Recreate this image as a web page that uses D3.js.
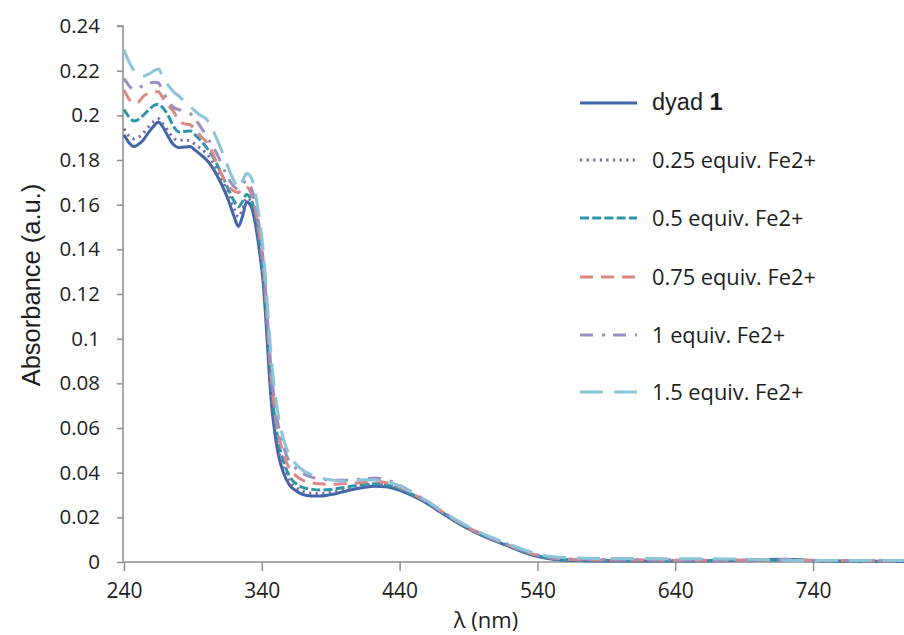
<!DOCTYPE html>
<html>
<head>
<meta charset="utf-8">
<script src="https://cdn.jsdelivr.net/npm/d3@7/dist/d3.min.js"></script>
<style>
  html, body { margin: 0; padding: 0; background: #ffffff; }
  svg { display: block; }
</style>
</head>
<body>
<script>
// Wavelength grid (nm)
const wavelengths = [
  240,244,247,250,254,258,262,265,268,272,
  276,280,284,288,292,296,300,304,308,312,
  316,320,323,326,329,332,335,337,339,341,
  343,345,347,349,352,356,360,365,370,376,
  382,390,398,406,414,422,430,438,446,454,
  462,470,480,490,500,510,520,530,540,550,
  560,575,590,610,630,650,670,690,705,720,
  735,750,770,790,806
];

// Absorbance of each titration step
const dyad1 = [
  0.1913,0.1875,0.186,0.1868,0.189,0.1925,0.1955,0.197,0.195,0.1905,
  0.1868,0.1855,0.1858,0.186,0.1842,0.1822,0.180,0.1768,0.1725,0.1675,
  0.1615,0.1545,0.1502,0.1548,0.1612,0.1595,0.1525,0.145,0.136,0.125,
  0.108,0.088,0.071,0.060,0.048,0.0395,0.0345,0.0318,0.0302,0.0296,
  0.0295,0.0302,0.0313,0.0325,0.0334,0.0339,0.0337,0.0325,0.0306,0.0282,
  0.0254,0.0222,0.0183,0.0148,0.0118,0.0092,0.0068,0.0043,0.0024,0.0013,
  0.0008,0.0006,0.0005,0.0005,0.0005,0.0005,0.0006,0.0008,0.0011,0.0012,
  0.0008,0.0004,0.0002,0.0002,0.0002
];
const fe025 = [
  0.194,0.1905,0.1895,0.19,0.192,0.195,0.1975,0.1985,0.1965,0.193,
  0.1898,0.1888,0.189,0.1885,0.1868,0.185,0.1828,0.1795,0.175,0.170,
  0.164,0.158,0.1545,0.158,0.163,0.1615,0.155,0.1475,0.1385,0.1275,
  0.1115,0.092,0.075,0.063,0.0505,0.0415,0.0362,0.0333,0.0316,0.0308,
  0.0306,0.0312,0.0323,0.0334,0.0343,0.0347,0.0344,0.0331,0.0311,0.0286,
  0.0258,0.0225,0.0186,0.015,0.012,0.0094,0.007,0.0046,0.0027,0.0015,
  0.001,0.0008,0.0007,0.0007,0.0007,0.0006,0.0006,0.0006,0.0007,0.0007,
  0.0006,0.0005,0.0004,0.0004,0.0004
];
const fe05 = [
  0.2026,0.199,0.1975,0.198,0.2,0.2025,0.2045,0.205,0.2035,0.2,
  0.195,0.1925,0.1928,0.193,0.191,0.1885,0.1855,0.182,0.1775,0.172,
  0.1665,0.1615,0.159,0.1615,0.1645,0.1625,0.1565,0.1495,0.1405,0.1295,
  0.114,0.095,0.078,0.0665,0.054,0.0445,0.0385,0.035,0.0333,0.0326,
  0.0322,0.0325,0.0332,0.034,0.0347,0.035,0.0346,0.0333,0.0312,0.0287,
  0.0258,0.0226,0.0187,0.0151,0.0121,0.0095,0.0071,0.0047,0.0028,0.0016,
  0.0011,0.0009,0.0008,0.0008,0.0007,0.0007,0.0007,0.0007,0.0008,0.0008,
  0.0007,0.0005,0.0005,0.0004,0.0004
];
const fe075 = [
  0.2114,0.207,0.2055,0.2058,0.2085,0.2099,0.2105,0.2106,0.208,0.2045,
  0.2017,0.1975,0.1962,0.1958,0.1932,0.1905,0.188,0.1835,0.1775,0.172,
  0.168,0.166,0.1655,0.1675,0.1678,0.1655,0.159,0.152,0.1435,0.1325,
  0.117,0.098,0.0815,0.070,0.0575,0.0478,0.042,0.0385,0.0365,0.0355,
  0.035,0.0348,0.035,0.0353,0.0357,0.036,0.0355,0.034,0.0317,0.029,
  0.026,0.0228,0.0189,0.0153,0.0123,0.0097,0.0073,0.0049,0.003,0.0018,
  0.0013,0.001,0.0009,0.0009,0.0008,0.0008,0.0008,0.0008,0.0009,0.0009,
  0.0008,0.0006,0.0005,0.0005,0.0005
];
const fe1 = [
  0.2166,0.213,0.2115,0.2118,0.2135,0.2144,0.2148,0.2145,0.211,0.2064,
  0.2035,0.2025,0.2018,0.2008,0.198,0.1945,0.1905,0.1865,0.182,0.1765,
  0.1715,0.168,0.167,0.1695,0.1705,0.168,0.1615,0.1545,0.146,0.135,
  0.1195,0.1005,0.0845,0.073,0.061,0.051,0.0452,0.0418,0.0395,0.038,
  0.0372,0.0367,0.0366,0.0368,0.0372,0.0376,0.0368,0.035,0.0323,0.0294,
  0.0263,0.023,0.0191,0.0155,0.0125,0.0099,0.0075,0.0051,0.0032,0.002,
  0.0015,0.0012,0.0011,0.001,0.001,0.0009,0.0009,0.0009,0.001,0.001,
  0.0008,0.0006,0.0005,0.0005,0.0005
];
const fe15 = [
  0.2293,0.2235,0.2203,0.2185,0.2175,0.2185,0.22,0.2207,0.2175,0.2135,
  0.2105,0.2085,0.2062,0.204,0.2017,0.1998,0.1982,0.194,0.1885,0.1825,
  0.176,0.1705,0.1675,0.1705,0.174,0.1725,0.1665,0.159,0.1505,0.1395,
  0.1245,0.1065,0.0905,0.0785,0.0655,0.0545,0.048,0.0437,0.041,0.039,
  0.0378,0.0368,0.0362,0.0364,0.0368,0.0367,0.036,0.0345,0.0322,0.0295,
  0.0265,0.0232,0.0193,0.0158,0.0128,0.0102,0.0078,0.0055,0.0036,0.0025,
  0.002,0.0017,0.0016,0.0016,0.0015,0.0015,0.0014,0.0013,0.0011,0.0008,
  0.0007,0.0007,0.0007,0.0007,0.0007
];

const seriesNames = ["dyad 1", "0.25 equiv. Fe2+", "0.5 equiv. Fe2+", "0.75 equiv. Fe2+", "1 equiv. Fe2+", "1.5 equiv. Fe2+"];
const seriesValues = [dyad1, fe025, fe05, fe075, fe1, fe15];

const xTicks = [240, 340, 440, 540, 640, 740];
const yTicks = [0, 0.02, 0.04, 0.06, 0.08, 0.1, 0.12, 0.14, 0.16, 0.18, 0.2, 0.22, 0.24];
const xTitle = "λ (nm)";
const yTitle = "Absorbance (a.u.)";

// Line styles per series
const styles = [
  { color: "#4065a8", dash: null,          width: 3 },
  { color: "#7c68a8", dash: "2.2,4.4",     width: 3 },
  { color: "#2f96a9", dash: "9,3.2",       width: 3 },
  { color: "#dc8883", dash: "13,8",        width: 3 },
  { color: "#9b8fc2", dash: "13,9,3,8",    width: 3 },
  { color: "#8ac5da", dash: "23,11",       width: 3 }
];

const W = 904, H = 635;
const svg = d3.select("body").append("svg").attr("width", W).attr("height", H);
svg.append("rect").attr("width", W).attr("height", H).attr("fill", "#fff");

const x = d3.scaleLinear().domain([240, 806]).range([124, 904]);
const y = d3.scaleLinear().domain([0, 0.24]).range([562, 26]);

const axisColor = "#8e8e8e";
const tickFont = "'Open Sans', sans-serif";

// Y axis
const yAxis = svg.append("g").attr("transform", "translate(123,0)")
  .call(d3.axisLeft(y).tickValues(yTicks).tickSize(6).tickPadding(17)
    .tickFormat(d => d3.format("")(+d.toFixed(2))));
yAxis.select(".domain").attr("stroke", axisColor).attr("stroke-width", 1.5).attr("d", `M-6,${y(0.24)}H0V${y(0)}`);
yAxis.selectAll(".tick line").attr("stroke", axisColor).attr("stroke-width", 1.5);
yAxis.selectAll(".tick text").attr("fill", "#1e1e1e").style("font-family", tickFont).style("font-size", "20.5px");

// X axis
const xAxis = svg.append("g").attr("transform", `translate(0,${y(0)})`)
  .call(d3.axisBottom(x).tickValues(xTicks).tickSize(9).tickPadding(12).tickFormat(d3.format("d")));
xAxis.select(".domain").attr("stroke", axisColor).attr("stroke-width", 1.5).attr("d", `M123,0H904`);
xAxis.selectAll(".tick line").attr("stroke", axisColor).attr("stroke-width", 1.5);
xAxis.selectAll(".tick text").attr("fill", "#1e1e1e").style("font-family", tickFont).style("font-size", "21px");

// Axis titles
svg.append("text").attr("x", 486).attr("y", 628).attr("text-anchor", "middle")
  .attr("fill", "#1e1e1e").style("font-family", tickFont).style("font-size", "22px").text(xTitle);
svg.append("text").attr("transform", "translate(40,285) rotate(-90)").attr("text-anchor", "middle")
  .attr("fill", "#1e1e1e").style("font-family", "'Liberation Sans', Arial, sans-serif").style("font-size", "25.5px").text(yTitle);

// Spectra
const line = d3.line()
  .x((d, i) => x(wavelengths[i]))
  .y(d => y(d))
  .curve(d3.curveMonotoneX);

const plot = svg.append("g");
seriesValues.forEach((vals, k) => {
  const s = styles[k];
  plot.append("path")
    .datum(vals)
    .attr("d", line)
    .attr("fill", "none")
    .attr("stroke", s.color)
    .attr("stroke-width", s.width)
    .attr("stroke-linejoin", "round")
    .attr("stroke-dasharray", s.dash);
});

// Legend
const legendRows = [103, 160, 218, 277, 335, 392];
const legend = svg.append("g");
seriesNames.forEach((name, k) => {
  const s = styles[k];
  const yy = legendRows[k];
  legend.append("line")
    .attr("x1", 580).attr("x2", 637).attr("y1", yy).attr("y2", yy)
    .attr("stroke", s.color).attr("stroke-width", s.width)
    .attr("stroke-dasharray", s.dash);
  if (k === 0) {
    const t = legend.append("text").attr("x", 652).attr("y", yy + 7)
      .attr("fill", "#1e1e1e").style("font-family", "'Liberation Sans', Arial, sans-serif").style("font-size", "23.5px");
    t.append("tspan").text("dyad ");
    t.append("tspan").style("font-weight", "bold").text("1");
  } else {
    legend.append("text").attr("x", 652).attr("y", yy + 8)
      .attr("fill", "#1e1e1e").style("font-family", tickFont).style("font-size", "21.8px").text(name);
  }
});
</script>
</body>
</html>
